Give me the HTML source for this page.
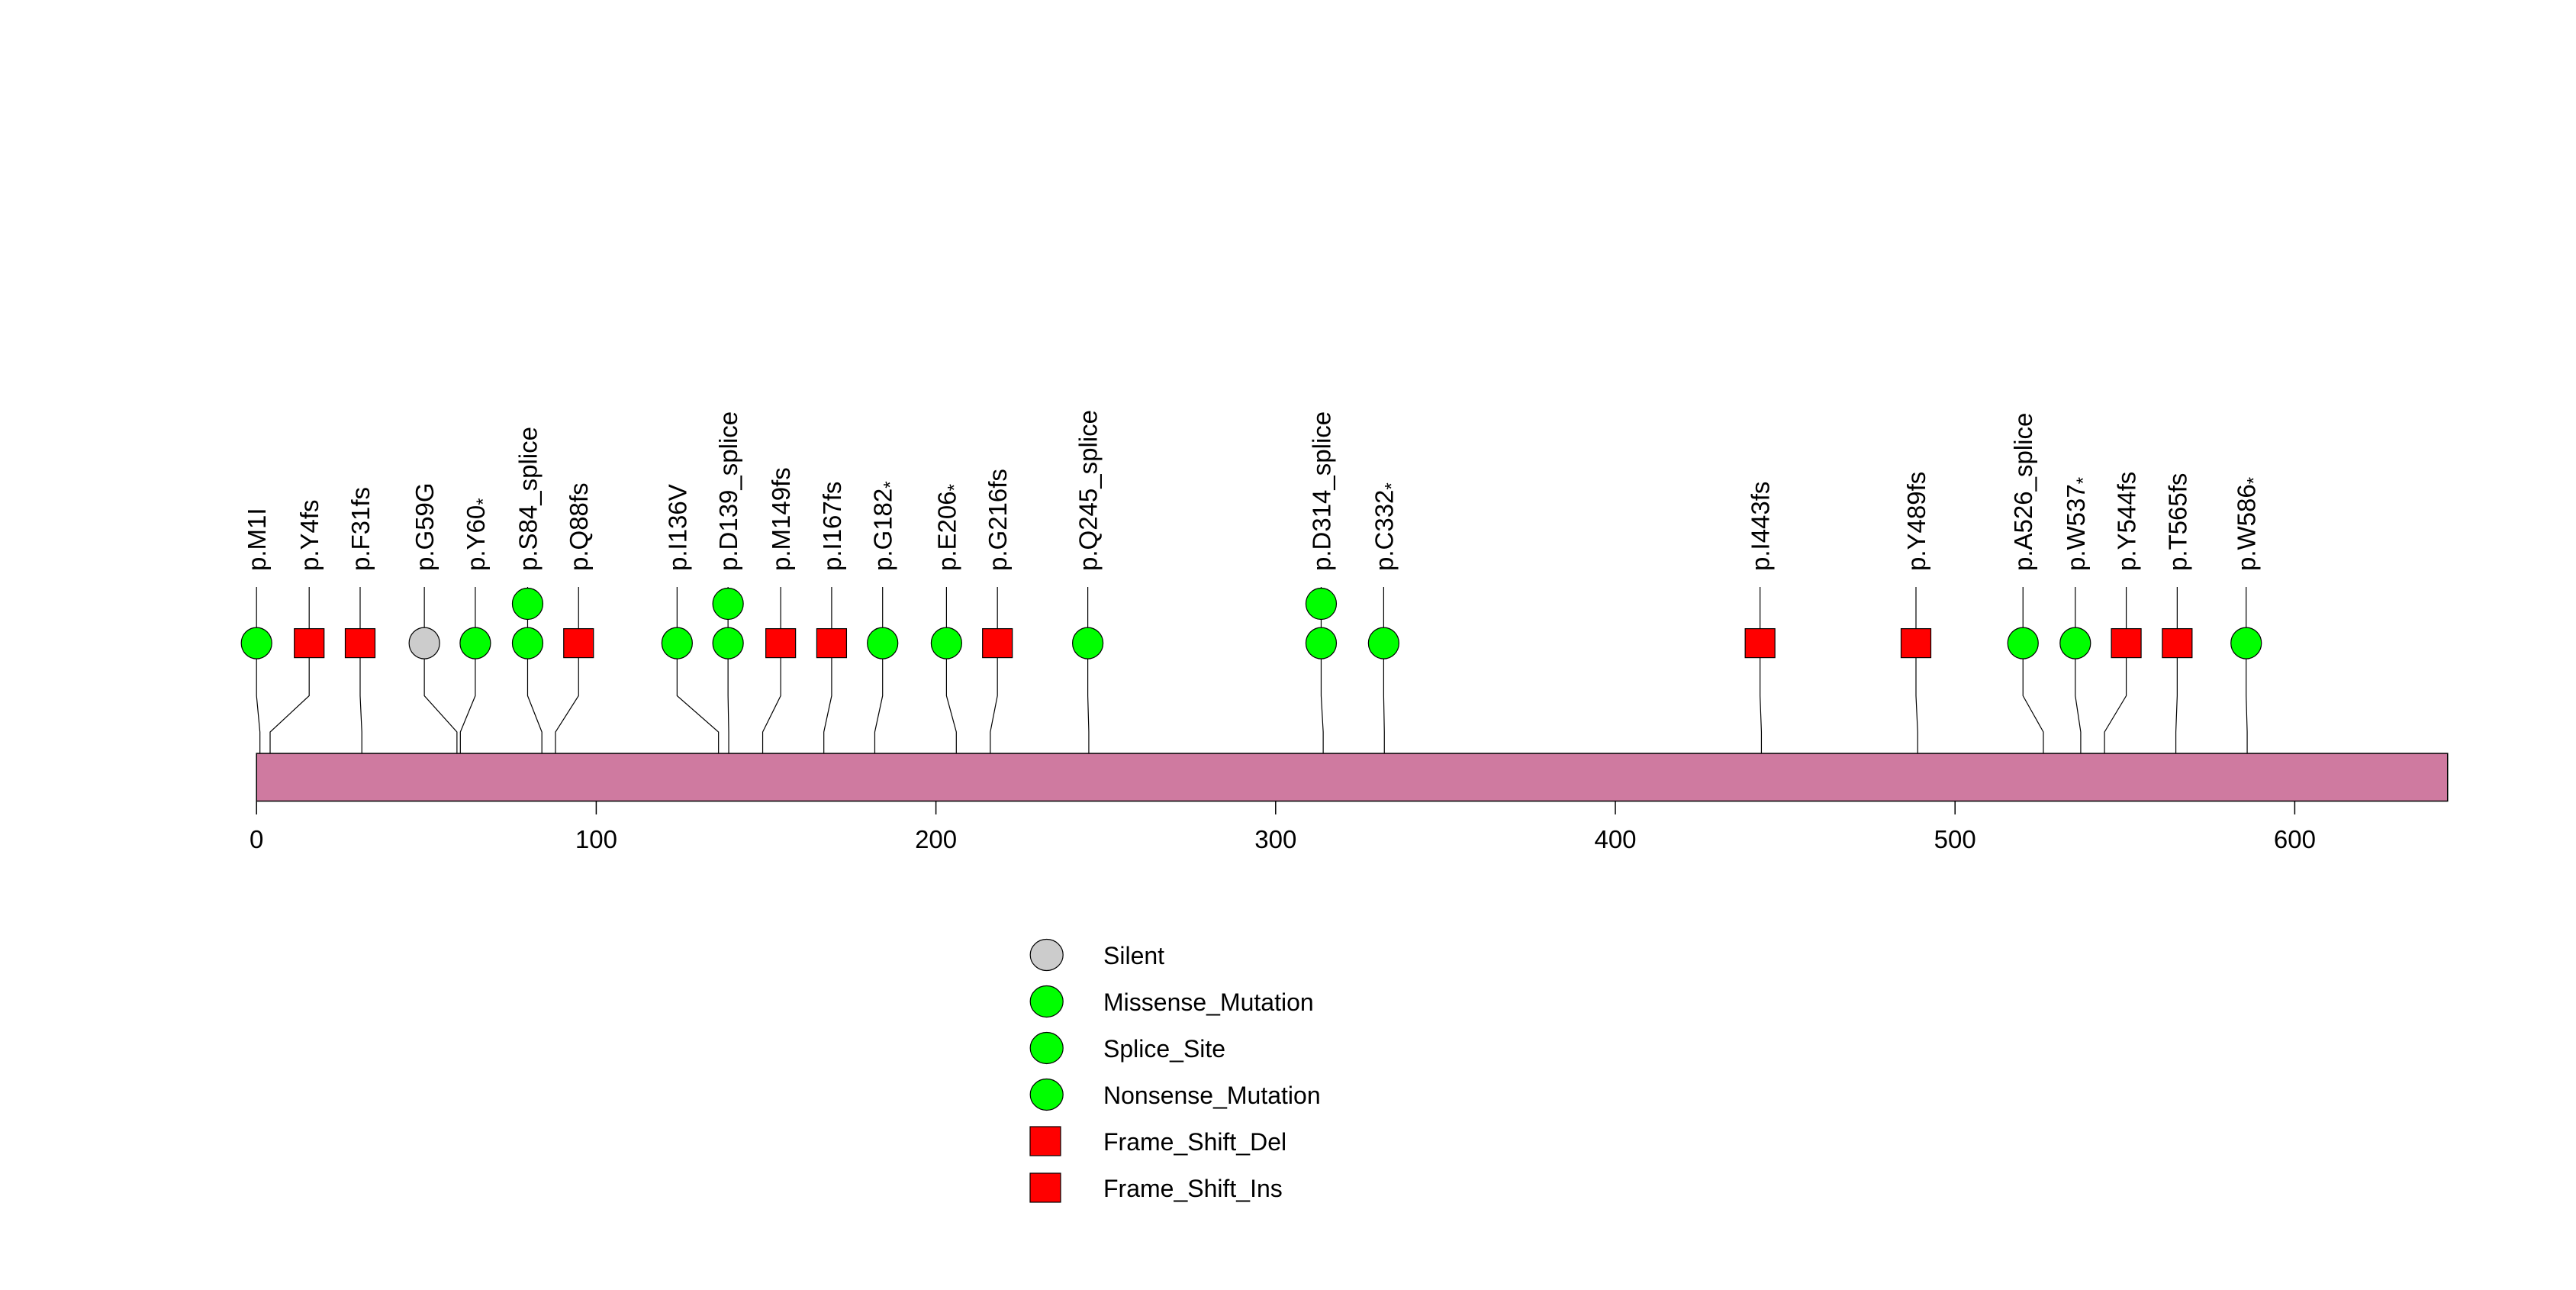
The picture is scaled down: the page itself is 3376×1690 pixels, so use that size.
<!DOCTYPE html>
<html><head><meta charset="utf-8"><style>
body{margin:0;background:#fff}
svg{display:block;font-family:"Liberation Sans",sans-serif}
</style></head><body>
<svg id="chart" width="3376" height="1690" viewBox="0 0 3376 1690" xmlns="http://www.w3.org/2000/svg">
<rect width="3376" height="1690" fill="#fff"/>
<g id="stems"></g><g id="protein"></g><g id="axis"></g><g id="marks"></g><g id="labels"></g><g id="legend"></g>
</svg>
<script>
const labels=["p.M1I","p.Y4fs","p.F31fs","p.G59G","p.Y60*","p.S84_splice","p.Q88fs","p.I136V","p.D139_splice","p.M149fs","p.I167fs","p.G182*","p.E206*","p.G216fs","p.Q245_splice","p.D314_splice","p.C332*","p.I443fs","p.Y489fs","p.A526_splice","p.W537*","p.Y544fs","p.T565fs","p.W586*"];
const positions=[1,4,31,59,60,84,88,136,139,149,167,182,206,216,245,314,332,443,489,526,537,544,565,586];
const displayPos=[0,15.5,30.5,49.4,64.4,79.8,94.8,123.8,138.8,154.3,169.3,184.3,203.1,218.1,244.7,313.4,331.8,442.6,488.5,520,535.4,550.4,565.4,585.7];
const types=["M","F","F","S","M","M","F","M","M","F","F","M","M","F","M","M","M","F","F","M","M","F","F","M"];
const counts=[1,1,1,1,1,2,1,1,2,1,1,1,1,1,1,2,1,1,1,1,1,1,1,1];
const ticks=[0,100,200,300,400,500,600];
const proteinLength=645;
const legendNames=["Silent","Missense_Mutation","Splice_Site","Nonsense_Mutation","Frame_Shift_Del","Frame_Shift_Ins"];
const legendTypes=["S","M","M","M","F","F"];

const NS="http://www.w3.org/2000/svg";
const x0=336.2, k=4.452;
const X=v=>x0+v*k;
const rowY=c=>842.6-(c-1)*51.6;
const barTop=987, barBot=1049.5;
function mk(tag,attrs,parent){const e=document.createElementNS(NS,tag);for(const a in attrs)e.setAttribute(a,attrs[a]);document.getElementById(parent).appendChild(e);return e;}

let bar=mk('rect',{x:X(0),y:barTop,width:X(proteinLength)-X(0),height:barBot-barTop,fill:'#cf7aa0',stroke:'#000','stroke-width':1.5},'protein');



ticks.forEach(t=>{
 let l=mk('line',{x1:X(t),x2:X(t),y1:barBot,y2:1067,stroke:'#000','stroke-width':1.5},'axis');
 
 
 let tx=mk('text',{x:X(t),y:1111,'font-size':33,'text-anchor':'middle'},'axis');
 tx.textContent=t;
 
 
});

positions.forEach((p,i)=>{
 const dx=X(displayPos[i]), ax=X(p);
 let s=mk('polyline',{points:`${dx},769 ${dx},911.5 ${ax},959 ${ax},${barBot}`,fill:'none',stroke:'#000','stroke-width':1.2},'stems');
 
 
 for(let c=1;c<=counts[i];c++){
  const cy=rowY(c);
  let m;
  if(types[i]==='F') m=mk('rect',{x:dx-19.5,y:cy-19,width:39,height:38,fill:'#ff0000',stroke:'#000','stroke-width':1.2},'marks');
  else m=mk('ellipse',{cx:dx,cy:cy,rx:20,ry:20.5,fill:types[i]==='S'?'#cccccc':'#00ff00',stroke:'#000','stroke-width':1.2},'marks');
  
  
 }
 let t=mk('text',{x:0,y:0,'font-size':33,'text-anchor':'start',transform:`translate(${dx+12},748) rotate(-90)`},'labels');
 const lab=labels[i];
 if(lab.endsWith('*')){t.textContent=lab.slice(0,-1);let ts=document.createElementNS(NS,'tspan');ts.setAttribute('font-size',24);ts.setAttribute('dy',6);ts.textContent='*';t.appendChild(ts);}
 else t.textContent=lab;
 
 
});

legendNames.forEach((n,i)=>{
 const cy=1251+i*61;
 let m;
 if(legendTypes[i]==='F') m=mk('rect',{x:1350,y:cy-19,width:40,height:38,fill:'#ff0000',stroke:'#000','stroke-width':1.2},'legend');
 else m=mk('ellipse',{cx:1371.7,cy:cy,rx:21.5,ry:20.5,fill:legendTypes[i]==='S'?'#cccccc':'#00ff00',stroke:'#000','stroke-width':1.2},'legend');
 
 
 let t=mk('text',{x:1446,y:cy+12,'font-size':32},'legend');
 t.textContent=n;
 
 
});
</script>
</body></html>
